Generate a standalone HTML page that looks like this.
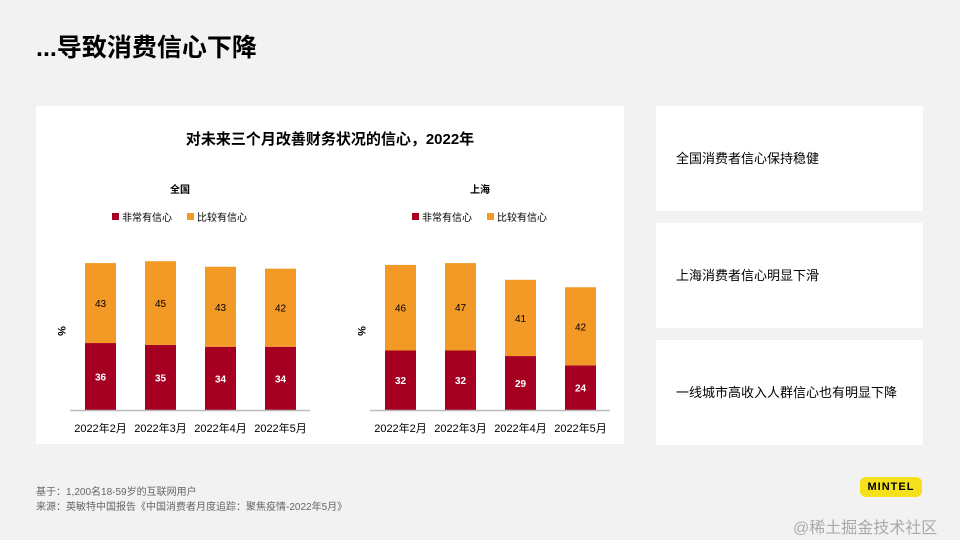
<!DOCTYPE html>
<html><head><meta charset="utf-8"><style>
body{margin:0;width:960px;height:540px;background:#f2f2f2;position:relative;overflow:hidden;font-family:"Liberation Sans","Noto Sans CJK SC",sans-serif;color:#000}
.abs{position:absolute}
.box{position:absolute;background:#fff}
.note{position:absolute;left:20px;font-size:13px;line-height:16px}
</style></head><body>
<div class="abs" style="left:36px;top:30px;font-size:25px;font-weight:bold;line-height:36px">...导致消费信心下降</div>
<div class="box" style="left:36px;top:106px;width:588px;height:338px"></div>
<div class="box" style="left:656px;top:106px;width:267px;height:105px"><div class="note" style="top:45px">全国消费者信心保持稳健</div></div>
<div class="box" style="left:656px;top:223px;width:267px;height:105px"><div class="note" style="top:45px">上海消费者信心明显下滑</div></div>
<div class="box" style="left:656px;top:340px;width:267px;height:105px"><div class="note" style="top:45px">一线城市高收入人群信心也有明显下降</div></div>
<svg class="abs" style="left:0;top:0" width="960" height="540" id="chart">
<text x="330" y="144" text-anchor="middle" font-size="15" font-weight="bold" font-family="Liberation Sans,Noto Sans CJK SC,sans-serif">对未来三个月改善财务状况的信心，2022年</text>
</svg>
<div class="abs" style="left:36px;top:483px;font-size:10px;color:#666">基于：1,200名18-59岁的互联网用户</div>
<div class="abs" style="left:36px;top:498px;font-size:10px;color:#666">来源：英敏特中国报告《中国消费者月度追踪：聚焦疫情-2022年5月》</div>
<div class="abs" style="left:860px;top:477px;width:62px;height:20px;background:#f5e11a;border-radius:6px;font-size:11px;font-weight:bold;text-align:center;line-height:20px;letter-spacing:1px">MINTEL</div>
<div class="abs" style="left:793px;top:514px;font-size:16px;color:#aaa">@稀土掘金技术社区</div>
<script>
const categories=["2022年2月","2022年3月","2022年4月","2022年5月"];
const natVery=[36,35,34,34];
const natFairly=[43,45,43,42];
const shVery=[32,32,29,24];
const shFairly=[46,47,41,42];
const svg=document.getElementById('chart');
const NS='http://www.w3.org/2000/svg';
const baseY=410, k=1.86;
function y(v){return baseY-v*k;}
function mk(t,a){const e=document.createElementNS(NS,t);for(const n in a)e.setAttribute(n,a[n]);svg.appendChild(e);return e;}
function txt(x,yy,s,size,fill,weight,anchor){const e=mk('text',{x:x,y:yy,'font-size':size,fill:fill,'font-weight':weight||'normal','text-anchor':anchor||'middle','font-family':'Liberation Sans,Noto Sans CJK SC,sans-serif'});e.textContent=s;return e;}
function panel(x0,title,very,fairly,key){
  const t=txt(x0+110,193,title,10,'#000','bold');
  
  
  let r=mk('rect',{x:x0+42,y:213,width:7,height:7,fill:'#a50021'});
  
  
  txt(x0+52,221,'非常有信心',10,'#000','normal','start');
  r=mk('rect',{x:x0+117,y:213,width:7,height:7,fill:'#f39a26'});
  
  
  txt(x0+127,221,'比较有信心',10,'#000','normal','start');
  const yt=txt(x0-8,327,'%',11,'#000','bold');
  yt.setAttribute('transform','rotate(90 '+(x0-12)+' 327)');
  
  
  categories.forEach((c,i)=>{
    const bx=x0+15+i*60, w=31;
    const a=mk('rect',{x:bx,y:y(very[i]),width:w,height:very[i]*k,fill:'#a50021'});
    
    
    const b=mk('rect',{x:bx,y:y(very[i]+fairly[i]),width:w,height:fairly[i]*k,fill:'#f39a26'});
    
    
    txt(bx+w/2,y(very[i]/2)+4,very[i],10,'#fff','bold');
    txt(bx+w/2,y(very[i]+fairly[i]/2)+4,fairly[i],10,'#000','normal');
    const l=txt(bx+w/2,432,c,11,'#000');
    
    
  });
  const ax=mk('line',{x1:x0,x2:x0+240,y1:baseY+0.5,y2:baseY+0.5,stroke:'#bbb','stroke-width':1.5});
  
  
}
panel(70,'全国',natVery,natFairly,'national');
panel(370,'上海',shVery,shFairly,'shanghai');
</script>
</body></html>
